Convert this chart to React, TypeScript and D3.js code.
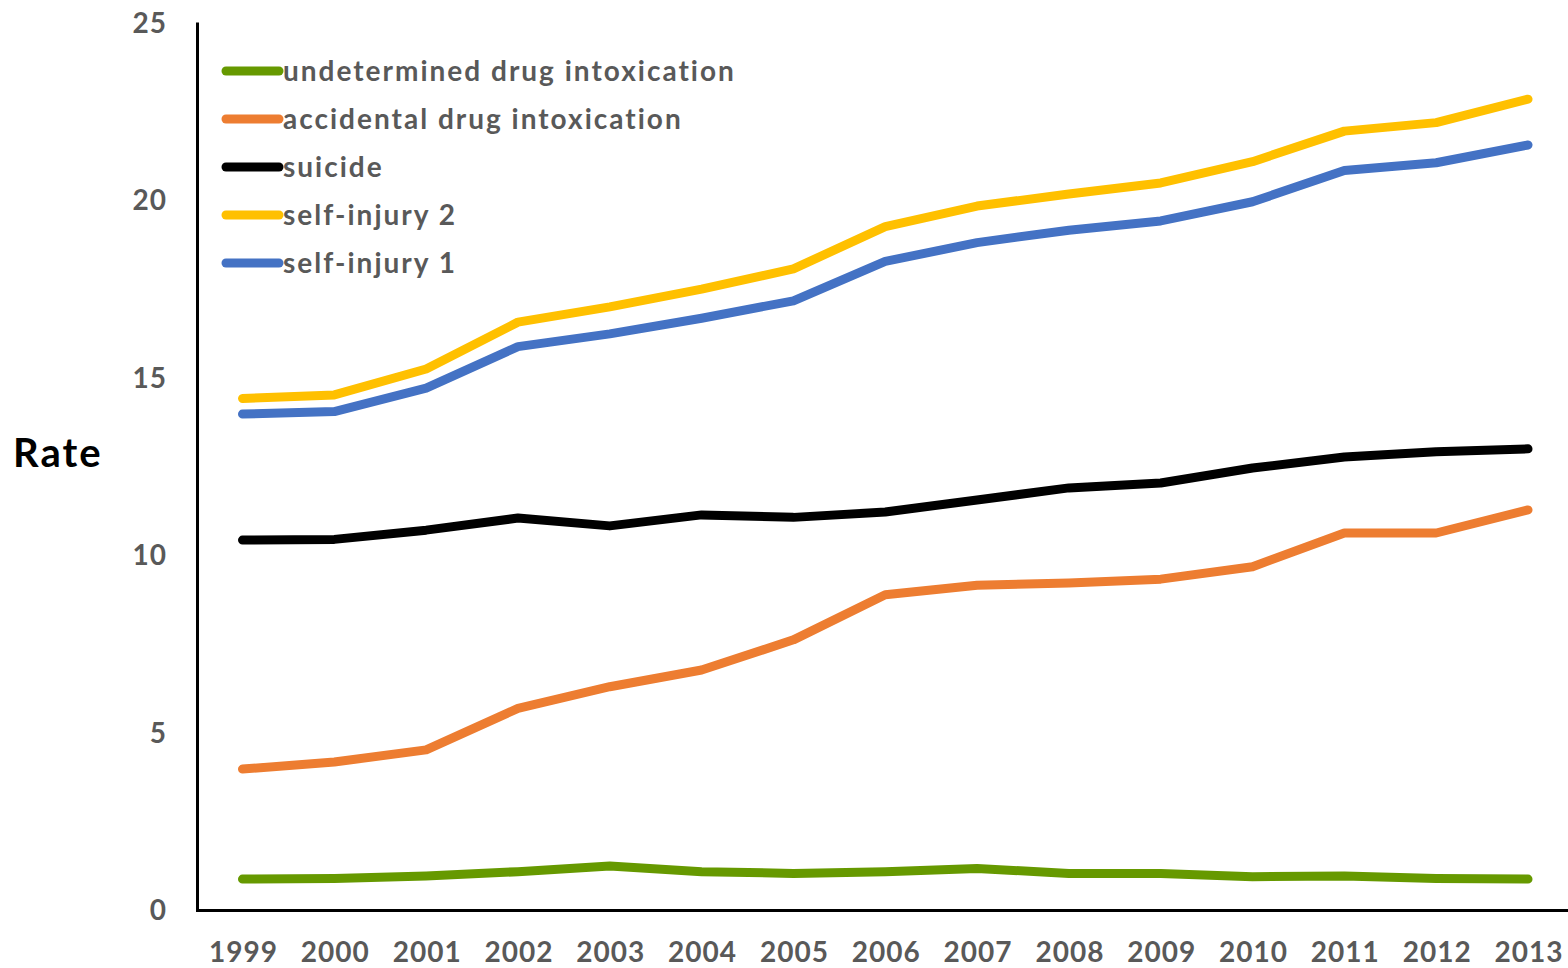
import React from "react";
import * as d3 from "d3";

const years = [1999, 2000, 2001, 2002, 2003, 2004, 2005, 2006, 2007, 2008, 2009, 2010, 2011, 2012, 2013];
const undetermined = [0.87, 0.89, 0.96, 1.08, 1.24, 1.08, 1.03, 1.08, 1.17, 1.03, 1.03, 0.94, 0.96, 0.89, 0.87];
const accidental = [3.97, 4.17, 4.51, 5.68, 6.29, 6.76, 7.61, 8.88, 9.15, 9.21, 9.32, 9.67, 10.62, 10.62, 11.27];
const suicide = [10.42, 10.44, 10.7, 11.04, 10.82, 11.13, 11.06, 11.21, 11.55, 11.89, 12.03, 12.45, 12.76, 12.91, 12.99];
const selfInjury2 = [14.41, 14.51, 15.24, 16.56, 16.99, 17.49, 18.06, 19.25, 19.83, 20.17, 20.48, 21.08, 21.94, 22.18, 22.84];
const selfInjury1 = [13.97, 14.04, 14.7, 15.87, 16.23, 16.67, 17.16, 18.27, 18.8, 19.15, 19.41, 19.95, 20.83, 21.05, 21.55];
const yTicks = [0, 5, 10, 15, 20, 25];

const seriesNames = [
  "undetermined drug intoxication",
  "accidental drug intoxication",
  "suicide",
  "self-injury 2",
  "self-injury 1",
];
const seriesValues = [undetermined, accidental, suicide, selfInjury2, selfInjury1];
const seriesColors = ["#669900", "#ED7D31", "#000000", "#FFC000", "#4472C4"];

const W = 1568;
const H = 968;
const FONT = "Lato, 'Open Sans', sans-serif";

export default function App() {
  const x = d3.scaleLinear().domain([1999, 2013]).range([242.5, 1528]);
  const y = d3.scaleLinear().domain([0, 25]).range([910, 22.5]);
  const line = d3
    .line<number>()
    .x((_, i) => x(years[i]))
    .y((d) => y(d));

  return (
    <svg
      width={W}
      height={H}
      style={{ position: "absolute", left: 0, top: 0, background: "#fff" }}
    >
      {/* axes */}
      <line x1={197.5} x2={197.5} y1={y(25)} y2={911.5} stroke="#000" strokeWidth={3} />
      <line x1={196} x2={W} y1={910.5} y2={910.5} stroke="#000" strokeWidth={3} />

      {yTicks.map((t) => (
        <text
          key={t}
          x={167}
          y={y(t)}
          dy="0.36em"
          textAnchor="end"
          fontFamily={FONT}
          fontWeight={700}
          fontSize={28}
          letterSpacing={1}
          fill="#595959"
        >
          {t}
        </text>
      ))}

      {years.map((yr) => (
        <text
          key={yr}
          x={x(yr) + 1}
          y={952}
          dy="0.36em"
          textAnchor="middle"
          fontFamily={FONT}
          fontWeight={700}
          fontSize={28}
          letterSpacing={1}
          fill="#595959"
        >
          {yr}
        </text>
      ))}

      <text
        x={13}
        y={453}
        dy="0.36em"
        fontFamily={FONT}
        fontWeight={700}
        fontSize={40}
        letterSpacing={2}
        fill="#000"
      >
        Rate
      </text>

      {seriesValues.map((vals, i) => (
        <path
          key={seriesNames[i]}
          d={line(vals) || ""}
          fill="none"
          stroke={seriesColors[i]}
          strokeWidth={9}
          strokeLinecap="round"
          strokeLinejoin="round"
        />
      ))}

      {seriesNames.map((name, i) => {
        const ly = 71 + i * 48;
        return (
          <g key={name}>
            <line
              x1={226}
              x2={279}
              y1={ly}
              y2={ly}
              stroke={seriesColors[i]}
              strokeWidth={9}
              strokeLinecap="round"
            />
            <text
              x={283}
              y={ly}
              dy="0.36em"
              fontFamily={FONT}
              fontWeight={700}
              fontSize={28}
              letterSpacing={2}
              fill="#595959"
            >
              {name}
            </text>
          </g>
        );
      })}
    </svg>
  );
}
